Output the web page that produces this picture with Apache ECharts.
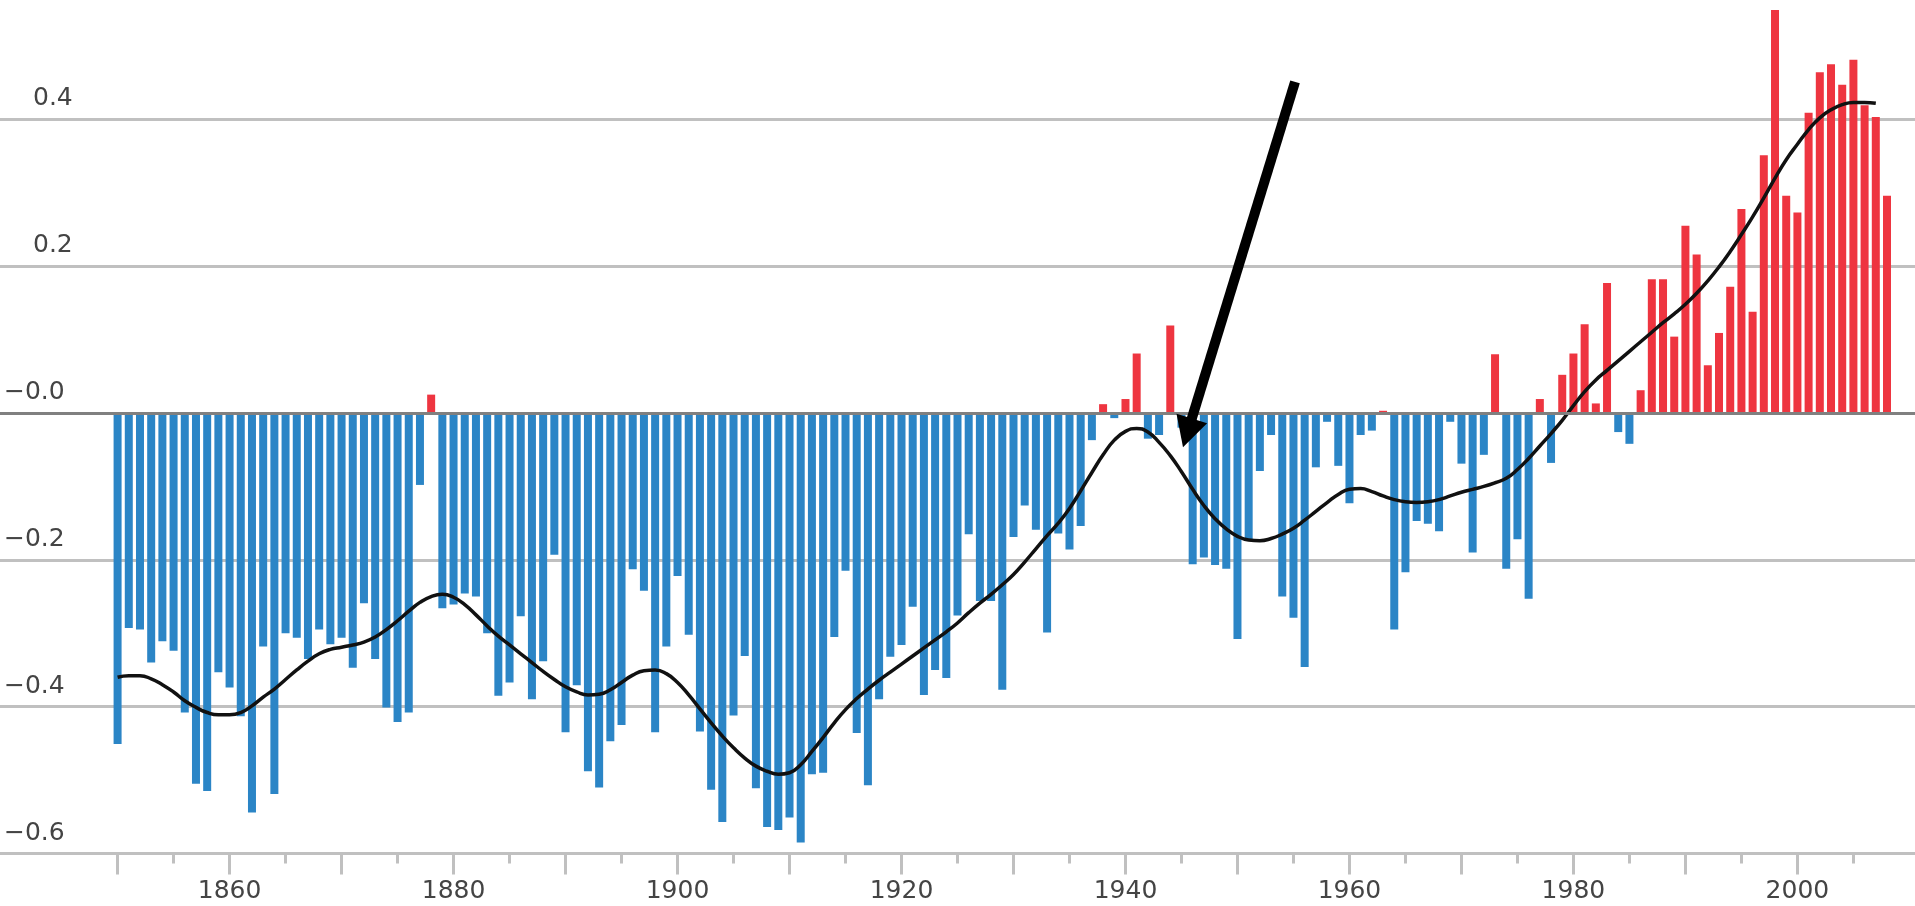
<!DOCTYPE html>
<html>
<head>
<meta charset="utf-8">
<script src="https://cdn.jsdelivr.net/npm/echarts@6/dist/echarts.min.js"></script>
<style>
html,body{margin:0;padding:0;background:#ffffff;}
#chart{width:1915px;height:906px;}
</style>
</head>
<body>
<div id="chart"></div>
<script>
// ---------- data ----------
const FIRST_YEAR = 1850;
// annual anomaly, 1850..2008
const anomalies = [
 -0.451,-0.293,-0.295,-0.340,-0.311,-0.324,-0.408,-0.505,-0.515,-0.353,
 -0.374,-0.413,-0.544,-0.318,-0.519,-0.300,-0.306,-0.335,-0.295,-0.315,
 -0.306,-0.347,-0.259,-0.335,-0.401,-0.421,-0.408,-0.098, 0.025,-0.266,
 -0.261,-0.246,-0.250,-0.300,-0.385,-0.367,-0.277,-0.390,-0.338,-0.193,
 -0.435,-0.371,-0.488,-0.510,-0.447,-0.425,-0.213,-0.242,-0.435,-0.318,
 -0.222,-0.302,-0.434,-0.513,-0.557,-0.412,-0.331,-0.511,-0.564,-0.568,
 -0.551,-0.585,-0.492,-0.490,-0.305,-0.215,-0.436,-0.507,-0.390,-0.332,
 -0.316,-0.264,-0.384,-0.350,-0.361,-0.276,-0.165,-0.256,-0.256,-0.377,
 -0.169,-0.126,-0.159,-0.299,-0.164,-0.186,-0.154,-0.037, 0.012,-0.007,
  0.019, 0.081,-0.035,-0.030, 0.119,-0.020,-0.206,-0.197,-0.207,-0.212,
 -0.308,-0.172,-0.079,-0.030,-0.250,-0.279,-0.346,-0.074,-0.012,-0.072,
 -0.123,-0.030,-0.024, 0.003,-0.295,-0.217,-0.147,-0.151,-0.161,-0.012,
 -0.069,-0.190,-0.057, 0.080,-0.212,-0.172,-0.253, 0.019,-0.068, 0.052,
  0.081, 0.121, 0.013, 0.177,-0.026,-0.042, 0.031, 0.182, 0.182, 0.104,
  0.255, 0.216, 0.065, 0.109, 0.172, 0.278, 0.138, 0.351, 0.549, 0.296,
  0.273, 0.409, 0.464, 0.475, 0.447, 0.481, 0.419, 0.403, 0.296
];
// smoothed curve, 1850..2007
const smoothed = [
 -0.360,-0.358,-0.358,-0.362,-0.370,-0.380,-0.392,-0.401,-0.408,-0.411,
 -0.411,-0.408,-0.399,-0.387,-0.376,-0.363,-0.350,-0.338,-0.328,-0.322,
 -0.319,-0.316,-0.312,-0.305,-0.295,-0.283,-0.270,-0.258,-0.250,-0.247,
 -0.251,-0.261,-0.275,-0.290,-0.304,-0.316,-0.328,-0.340,-0.352,-0.363,
 -0.373,-0.380,-0.384,-0.383,-0.377,-0.367,-0.357,-0.351,-0.350,-0.355,
 -0.367,-0.384,-0.403,-0.422,-0.440,-0.456,-0.470,-0.481,-0.488,-0.492,
 -0.490,-0.479,-0.461,-0.442,-0.422,-0.404,-0.389,-0.376,-0.364,-0.353,
 -0.342,-0.331,-0.320,-0.309,-0.298,-0.286,-0.272,-0.259,-0.247,-0.234,
 -0.220,-0.203,-0.185,-0.167,-0.150,-0.130,-0.106,-0.081,-0.057,-0.037,
 -0.025,-0.021,-0.026,-0.040,-0.058,-0.080,-0.104,-0.126,-0.144,-0.158,
 -0.168,-0.173,-0.174,-0.171,-0.165,-0.157,-0.146,-0.134,-0.122,-0.111,
 -0.104,-0.103,-0.107,-0.113,-0.118,-0.121,-0.122,-0.121,-0.118,-0.113,
 -0.108,-0.104,-0.100,-0.095,-0.089,-0.077,-0.062,-0.045,-0.028,-0.010,
  0.010, 0.029, 0.045, 0.058, 0.071, 0.084, 0.097, 0.110, 0.123, 0.135,
  0.148, 0.163, 0.180, 0.199, 0.220, 0.243, 0.267, 0.293, 0.320, 0.345,
  0.366, 0.386, 0.402, 0.413, 0.420, 0.423, 0.423, 0.422
];
const xLabelYears   = [1860,1880,1900,1920,1940,1960,1980,2000];
const majorTickYears = [1850,1860,1870,1880,1890,1900,1910,1920,1930,1940,1950,1960,1970,1980,1990,2000];
const minorTickYears = [1855,1865,1875,1885,1895,1905,1915,1925,1935,1945,1955,1965,1975,1985,1995,2005];
const yTickValues = [-0.6,-0.4,-0.2,0,0.2,0.4];
const yTickLabels = ['\u22120.6','\u22120.4','\u22120.2','\u22120.0','0.2','0.4'];
// arrow annotation: shaft start and the point where the arrow-head is centred
const arrowStart = [1955.14, 0.451];
const arrowHead  = [1945.53, -0.027];
const AXIS_FIRST = 1840, AXIS_LAST = 2010;

// ---------- build ----------
const axisYears = [];
for (let y = AXIS_FIRST; y <= AXIS_LAST; y++) axisYears.push(String(y));
const barData = anomalies.map((v, i) => [FIRST_YEAR + i, v]);
const lineData = smoothed.map((v, i) => [FIRST_YEAR + i, v]);

const FONT = 'DejaVu Sans';
const GRID = '#c0c0c0';
const TEXT = '#444444';

function yLabel(v) {
  let best = 0;
  for (let i = 1; i < yTickValues.length; i++)
    if (Math.abs(yTickValues[i] - v) < Math.abs(yTickValues[best] - v)) best = i;
  return yTickLabels[best];
}

const chart = echarts.init(document.getElementById('chart'), null, {renderer: 'canvas'});
chart.setOption({
  animation: false,
  backgroundColor: '#ffffff',
  grid: {left: 0, right: 0, top: 0, bottom: 52.5, containLabel: false, outerBoundsMode: 'none'},
  xAxis: [
    {type: 'value', min: AXIS_FIRST - 0.5, max: AXIS_LAST + 0.5, show: false,
     splitLine: {show: false}},
    {type: 'category', data: axisYears, boundaryGap: true, position: 'bottom',
     axisLine: {show: true, onZero: false, lineStyle: {color: GRID, width: 3}},
     axisTick: {show: true, alignWithLabel: true, length: 21,
                lineStyle: {color: GRID, width: 3},
                interval: (i, v) => majorTickYears.indexOf(+v) >= 0},
     axisLabel: {show: true, margin: 25, fontSize: 25, fontFamily: FONT, color: TEXT,
                 interval: (i, v) => xLabelYears.indexOf(+v) >= 0},
     splitLine: {show: false}},
    {type: 'category', data: axisYears, boundaryGap: true, position: 'bottom',
     axisLine: {show: false, onZero: false},
     axisTick: {show: true, alignWithLabel: true, length: 10,
                lineStyle: {color: GRID, width: 3},
                interval: (i, v) => minorTickYears.indexOf(+v) >= 0},
     axisLabel: {show: false},
     splitLine: {show: false}}
  ],
  yAxis: {
    type: 'value', min: -0.6, max: 0.5625, interval: 0.2,
    axisLine: {show: false}, axisTick: {show: false},
    splitLine: {show: true, showMaxLine: false, lineStyle: {color: GRID, width: 3}},
    axisLabel: {
      inside: true, margin: 4, verticalAlign: 'bottom', lineHeight: 25,
      padding: [0, 0, 8, 0], showMaxLabel: false, showMinLabel: true,
      fontSize: 25, fontFamily: FONT, color: TEXT,
      formatter: v => (v > 1e-9 ? '{p|' : '{n|') + yLabel(v) + '}',
      rich: {
        p: {padding: [0, 0, 0, 29], fontSize: 25, fontFamily: FONT, color: TEXT, lineHeight: 25},
        n: {fontSize: 25, fontFamily: FONT, color: TEXT, lineHeight: 25}
      }
    }
  },
  series: [
    {
      type: 'bar', xAxisIndex: 0, yAxisIndex: 0, data: barData, barWidth: 8, z: 2,
      itemStyle: {color: p => (p.value[1] >= 0 ? '#ee3540' : '#2b85c6')},
      markLine: {
        silent: true, symbol: ['none', 'none'], label: {show: false},
        lineStyle: {color: '#808080', width: 3, type: 'solid'},
        data: [{yAxis: 0}]
      }
    },
    {
      type: 'line', xAxisIndex: 0, yAxisIndex: 0, data: lineData, smooth: 0.5,
      showSymbol: false, symbol: 'none', z: 4,
      lineStyle: {color: '#111111', width: 3.5},
      markLine: {
        silent: true, symbol: ['none', 'triangle'], symbolSize: [32, 30],
        label: {show: false},
        lineStyle: {color: '#000000', width: 10, type: 'solid', cap: 'butt'},
        itemStyle: {color: '#000000'},
        data: [[{coord: arrowStart}, {coord: arrowHead}]]
      }
    }
  ]
});
</script>
</body>
</html>
